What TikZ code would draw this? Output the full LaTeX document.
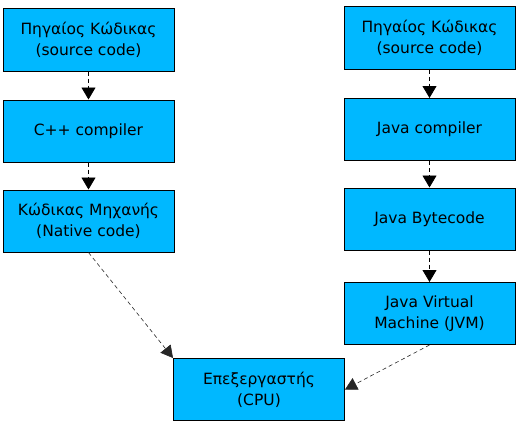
\documentclass[tikz,border=0pt]{standalone}
\usepackage{fontspec}
\setmainfont{DejaVu Sans}
\usetikzlibrary{arrows.meta}
\definecolor{boxblue}{RGB}{0,184,255}
\tikzset{
  box/.style={draw=black, line width=1pt, fill=boxblue, minimum width=171pt, minimum height=62pt, inner sep=0pt, align=center, font=\fontsize{15.5}{21}\selectfont},
  flow/.style={draw=black, line width=0.8pt, dash pattern=on 4pt off 3pt, -{Triangle[width=14pt,length=12pt]}},
  diag/.style={draw=black!85, line width=0.6pt, dash pattern=on 4pt off 3pt, -{Triangle[width=13pt,length=12pt]}}
}
\begin{document}
\begin{tikzpicture}[x=1pt,y=-1pt]
\useasboundingbox (0,0) rectangle (521,428);
\node[box] (l1) at (88.5,40) {Πηγαίος Κώδικας\\(source code)};
\node[box] (l2) at (88.5,131) {C++ compiler};
\node[box] (l3) at (88.5,221) {Κώδικας Μηχανής\\(Native code)};
\node[box] (r1) at (429.5,38) {Πηγαίος Κώδικας\\(source code)};
\node[box] (r2) at (429.5,129.5) {Java compiler};
\node[box] (r3) at (429.5,219) {Java Bytecode};
\node[box] (r4) at (429.5,313.5) {Java Virtual\\Machine (JVM)};
\node[box] (cpu) at (259,389.5) {Επεξεργαστής\\(CPU)};
\draw[flow] (l1.south) -- (l2.north);
\draw[flow] (l2.south) -- (l3.north);
\draw[flow] (r1.south) -- (r2.north);
\draw[flow] (r2.south) -- (r3.north);
\draw[flow] (r3.south) -- (r4.north);
\draw[diag] (l3.south) -- (cpu.north west);
\draw[diag] (r4.south) -- (cpu.east);
\end{tikzpicture}
\end{document}
